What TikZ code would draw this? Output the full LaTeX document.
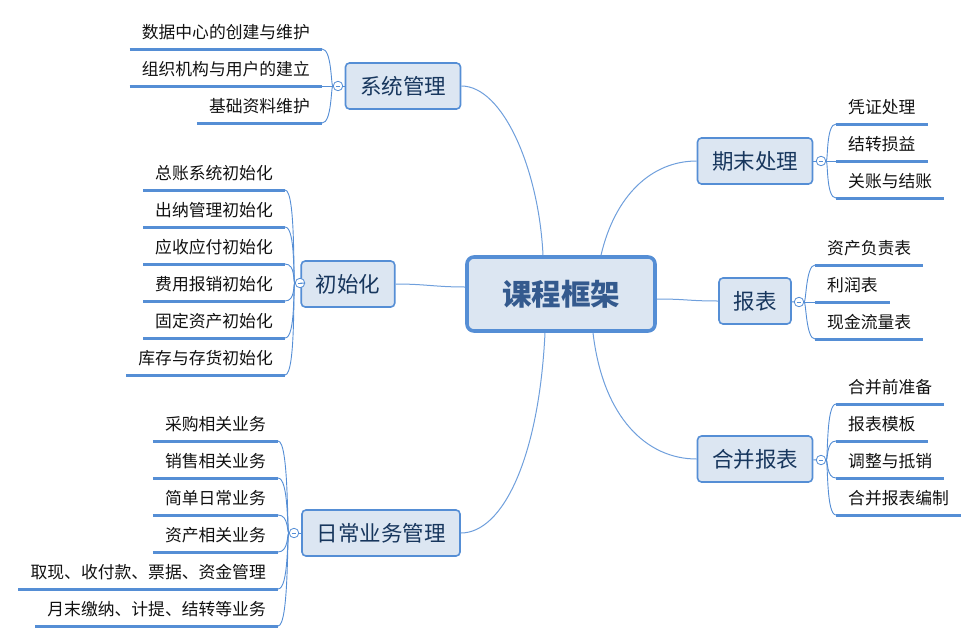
\documentclass[tikz,border=0pt]{standalone}
\usepackage{fontspec}
\setmainfont{Noto Sans CJK SC}
\usetikzlibrary{calc}
\definecolor{xmblue}{HTML}{558ED5}
\definecolor{xmlink}{HTML}{6F9FDC}
\definecolor{xmfill}{HTML}{DCE6F2}
\definecolor{xmroot}{HTML}{345A8E}
\definecolor{xmtopic}{HTML}{17365D}
\definecolor{xmtext}{HTML}{111111}
\tikzset{
  root/.style={
    draw=xmblue,
    line width=3.6pt,
    rounded corners=7pt,
    fill=xmfill,
    text=xmroot,
    minimum width=188pt,
    minimum height=74pt,
    font=\fontsize{29.5}{34}\selectfont\bfseries
  },
  topic/.style={
    draw=xmblue,
    line width=1.6pt,
    rounded corners=4pt,
    fill=xmfill,
    text=xmtopic,
    minimum height=46pt,
    inner xsep=14.5pt,
    font=\fontsize{21.5}{26}\selectfont
  },
  leaf/.style={
    text=xmtext,
    inner xsep=12pt,
    inner ysep=8pt,
    text height=14pt,
    text depth=2pt,
    font=\fontsize{16.8}{20}\selectfont,
    append after command={(\tikzlastnode.south west) edge[uline] (\tikzlastnode.south east)}
  },
  uline/.style={draw=xmblue, line width=3pt},
  toggle/.style={
    circle,
    draw=xmblue,
    fill=white,
    line width=0.8pt,
    minimum size=9.5pt,
    inner sep=0pt,
    path picture={\draw[xmblue, line width=0.8pt]
      ([xshift=-2.4pt]path picture bounding box.center) --
      ([xshift=2.4pt]path picture bounding box.center);}
  },
  branch/.style={draw=xmlink, line width=1pt},
  twig/.style={draw=xmblue, line width=0.9pt}
}
\begin{document}
\begin{tikzpicture}[x=1pt,y=1pt]
\useasboundingbox (0,0) rectangle (979,-643);

% centre
\node[root] (root) at (561,-294) {课程框架};

% main topics
\node[topic] (sys) at (403,-86) {系统管理};
\node[topic] (init) at (348,-284) {初始化};
\node[topic] (daily) at (381,-533) {日常业务管理};
\node[topic] (close) at (755,-161) {期末处理};
\node[topic] (rpt) at (755,-301) {报表};
\node[topic] (cons) at (755,-459) {合并报表};

\draw[branch] ([xshift=-18pt]root.north) .. controls +(-4,85) and +(42,0) .. (sys.east);
\draw[branch] ([yshift=7pt]root.west) .. controls +(-30,0) and +(30,0) .. (init.east);
\draw[branch] ([xshift=-16pt]root.south) .. controls +(-6,-125) and +(42,0) .. (daily.east);
\draw[branch] ([xshift=40pt]root.north) .. controls +(14,60) and +(-45,0) .. (close.west);
\draw[branch] ([yshift=-5pt]root.east) .. controls +(30,0) and +(-30,0) .. (rpt.west);
\draw[branch] ([xshift=32pt]root.south) .. controls +(10,-85) and +(-50,0) .. (cons.west);

% toggles
\node[toggle] (tsys) at (338,-86) {};
\node[toggle] (tinit) at (300,-283) {};
\node[toggle] (tdaily) at (294,-533) {};
\node[toggle] (tclose) at (821,-161) {};
\node[toggle] (trpt) at (799,-302) {};
\node[toggle] (tcons) at (821,-460) {};

\draw[twig] (tsys) -- (sys);
\draw[twig] (tinit) -- (init);
\draw[twig] (tdaily) -- (daily);
\draw[twig] (tclose) -- (close);
\draw[twig] (trpt) -- (rpt);
\draw[twig] (tcons) -- (cons);

% 系统管理
\node[leaf, anchor=south east] (sys1) at (322,-49) {数据中心的创建与维护};
\node[leaf, anchor=south east] (sys2) at (322,-86) {组织机构与用户的建立};
\node[leaf, anchor=south east] (sys3) at (322,-123) {基础资料维护};
\draw[twig] (tsys.west) .. controls +(-2,0) and +(10,0) .. (sys1.south east);
\draw[twig] (tsys.west) -- (sys2.south east);
\draw[twig] (tsys.west) .. controls +(-2,0) and +(10,0) .. (sys3.south east);

% 初始化
\node[leaf, anchor=south east] (init1) at (285,-190) {总账系统初始化};
\node[leaf, anchor=south east] (init2) at (285,-227) {出纳管理初始化};
\node[leaf, anchor=south east] (init3) at (285,-264) {应收应付初始化};
\node[leaf, anchor=south east] (init4) at (285,-301) {费用报销初始化};
\node[leaf, anchor=south east] (init5) at (285,-338) {固定资产初始化};
\node[leaf, anchor=south east] (init6) at (285,-375) {库存与存货初始化};
\draw[twig] (tinit.west) .. controls +(-2,0) and +(11,0) .. (init1.south east);
\draw[twig] (tinit.west) .. controls +(-2,0) and +(11,0) .. (init2.south east);
\draw[twig] (tinit.west) .. controls +(-2,0) and +(11,0) .. (init3.south east);
\draw[twig] (tinit.west) .. controls +(-2,0) and +(11,0) .. (init4.south east);
\draw[twig] (tinit.west) .. controls +(-2,0) and +(11,0) .. (init5.south east);
\draw[twig] (tinit.west) .. controls +(-2,0) and +(11,0) .. (init6.south east);

% 日常业务管理
\node[leaf, anchor=south east] (daily1) at (278,-441) {采购相关业务};
\node[leaf, anchor=south east] (daily2) at (278,-478) {销售相关业务};
\node[leaf, anchor=south east] (daily3) at (278,-515) {简单日常业务};
\node[leaf, anchor=south east] (daily4) at (278,-552) {资产相关业务};
\node[leaf, anchor=south east] (daily5) at (278,-589) {取现、收付款、票据、资金管理};
\node[leaf, anchor=south east] (daily6) at (278,-626) {月末缴纳、计提、结转等业务};
\draw[twig] (tdaily.west) .. controls +(-2,0) and +(11,0) .. (daily1.south east);
\draw[twig] (tdaily.west) .. controls +(-2,0) and +(11,0) .. (daily2.south east);
\draw[twig] (tdaily.west) .. controls +(-2,0) and +(11,0) .. (daily3.south east);
\draw[twig] (tdaily.west) .. controls +(-2,0) and +(11,0) .. (daily4.south east);
\draw[twig] (tdaily.west) .. controls +(-2,0) and +(11,0) .. (daily5.south east);
\draw[twig] (tdaily.west) .. controls +(-2,0) and +(11,0) .. (daily6.south east);

% 期末处理
\node[leaf, anchor=south west] (close1) at (836,-124) {凭证处理};
\node[leaf, anchor=south west] (close2) at (836,-161) {结转损益};
\node[leaf, anchor=south west] (close3) at (836,-198) {关账与结账};
\draw[twig] (tclose.east) .. controls +(2,0) and +(-10,0) .. (close1.south west);
\draw[twig] (tclose.east) -- (close2.south west);
\draw[twig] (tclose.east) .. controls +(2,0) and +(-10,0) .. (close3.south west);

% 报表
\node[leaf, anchor=south west] (rpt1) at (815,-265) {资产负责表};
\node[leaf, anchor=south west] (rpt2) at (815,-302) {利润表};
\node[leaf, anchor=south west] (rpt3) at (815,-339) {现金流量表};
\draw[twig] (trpt.east) .. controls +(2,0) and +(-9,0) .. (rpt1.south west);
\draw[twig] (trpt.east) -- (rpt2.south west);
\draw[twig] (trpt.east) .. controls +(2,0) and +(-9,0) .. (rpt3.south west);

% 合并报表
\node[leaf, anchor=south west] (cons1) at (836,-404) {合并前准备};
\node[leaf, anchor=south west] (cons2) at (836,-441) {报表模板};
\node[leaf, anchor=south west] (cons3) at (836,-478) {调整与抵销};
\node[leaf, anchor=south west] (cons4) at (836,-515) {合并报表编制};
\draw[twig] (tcons.east) .. controls +(2,0) and +(-10,0) .. (cons1.south west);
\draw[twig] (tcons.east) .. controls +(2,0) and +(-10,0) .. (cons2.south west);
\draw[twig] (tcons.east) .. controls +(2,0) and +(-10,0) .. (cons3.south west);
\draw[twig] (tcons.east) .. controls +(2,0) and +(-10,0) .. (cons4.south west);

\end{tikzpicture}
\end{document}
